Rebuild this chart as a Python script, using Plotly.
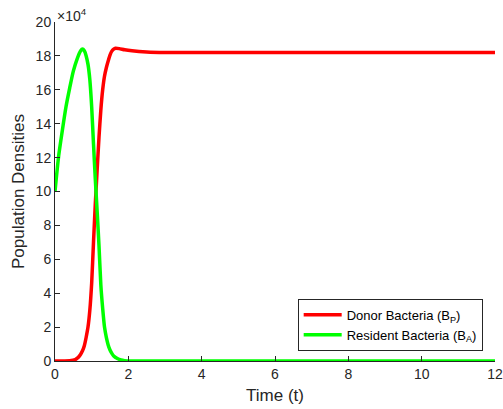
import plotly.graph_objects as go

# Time points and population densities
t_donor = [0, 0.4, 0.55, 0.6, 0.65, 0.7, 0.75, 0.8, 0.85, 0.9, 0.95, 1.0, 1.05, 1.1,
           1.15, 1.2, 1.25, 1.3, 1.35, 1.4, 1.45, 1.5, 1.55, 1.6, 1.65, 1.75, 1.9,
           2.1, 2.5, 3, 4, 6, 8, 10, 12]
donor = [0, 200, 800, 1500, 2500, 4000, 6000, 9000, 14000, 20000, 30000, 46000,
         70000, 93000, 113000, 132000, 148000, 160000, 168000, 173000, 177000,
         180500, 182800, 184000, 184500, 184300, 183600, 183000, 182300, 182000,
         182000, 182000, 182000, 182000, 182000]

t_resident = [0, 0.1, 0.2, 0.3, 0.4, 0.5, 0.6, 0.7, 0.75, 0.8, 0.85, 0.9, 0.95, 1.0,
              1.05, 1.1, 1.15, 1.2, 1.25, 1.3, 1.35, 1.4, 1.45, 1.5, 1.55, 1.6, 1.7,
              1.8, 1.9, 2.1, 3, 4, 6, 8, 10, 12]
resident = [100000, 121000, 136000, 150000, 161000, 171000, 178000, 183000, 184000,
            183000, 180000, 175000, 166000, 150000, 128000, 107000, 88000, 68000,
            45000, 31000, 20000, 14000, 9500, 6500, 4500, 3000, 1500, 600, 200, 0,
            0, 0, 0, 0, 0, 0]

x_ticks = [0, 2, 4, 6, 8, 10, 12]
y_ticks = [0, 2, 4, 6, 8, 10, 12, 14, 16, 18, 20]
scale = 1e4

fig = go.Figure()
fig.add_trace(go.Scatter(
    x=t_donor, y=[v / scale for v in donor], mode="lines",
    line=dict(color="#ff0000", width=3.5, shape="spline", smoothing=0.6),
    name="Donor Bacteria (B<sub>P</sub>)"))
fig.add_trace(go.Scatter(
    x=t_resident, y=[v / scale for v in resident], mode="lines",
    line=dict(color="#00ff00", width=3.5, shape="spline", smoothing=0.6),
    name="Resident Bacteria (B<sub>A</sub>)"))

axis_common = dict(showgrid=False, zeroline=False, showline=True, automargin=False,
                   linecolor="#262626", linewidth=1, ticks="inside", ticklen=5,
                   tickcolor="#262626", tickfont=dict(size=14, color="#262626"))

fig.update_xaxes(range=[0, 12], tickvals=x_ticks,
                 title=dict(text="Time (t)", font=dict(size=17, color="#262626"), standoff=8),
                 **axis_common)
fig.update_yaxes(range=[0, 20], tickvals=y_ticks,
                 title=dict(text="Population Densities", font=dict(size=17, color="#262626"), standoff=6),
                 **axis_common)

fig.add_annotation(text="\u00d710<sup>4</sup>", xref="paper", yref="paper",
                   x=0.0, y=1.0, xanchor="left", yanchor="bottom", showarrow=False,
                   font=dict(size=14, color="#262626"), yshift=-4)

fig.update_layout(
    width=503, height=409,
    margin=dict(l=55, r=8, t=22, b=48),
    paper_bgcolor="white", plot_bgcolor="white",
    font=dict(family="Liberation Sans, Arial, sans-serif", color="#262626"),
    legend=dict(x=0.972, y=0.03, xanchor="right", yanchor="bottom",
                bgcolor="white", bordercolor="#262626", borderwidth=1,
                itemwidth=38,
                font=dict(size=13, color="#000000"), tracegroupgap=0),
    showlegend=True,
)

fig.write_html("out.html")
